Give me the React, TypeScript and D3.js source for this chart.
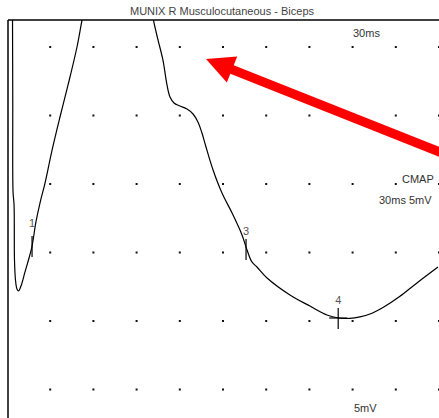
import React from 'react';
import * as d3 from 'd3';

// trace samples: time (ms) and amplitude (mV)
const traceMs = [0.38, 0.40, 0.42, 0.49, 0.52, 0.59, 0.69, 0.80, 0.97, 1.25, 1.53, 1.74, 2.01, 2.29, 2.64, 3.13, 3.68, 4.24, 4.86, 5.21, 5.49, 7.6,
  9.93, 10.17, 10.49, 10.83, 11.11, 11.32, 11.60, 12.01, 12.5, 12.92, 13.26, 13.54, 13.82, 14.31, 14.93, 15.63, 16.32, 16.67, 17.01, 17.36, 18.06,
  19.65, 21.04, 22.22, 23.02, 23.8, 24.51, 25.35, 26.11, 27.29, 28.47, 29.93];
const traceMv = [13.07, 6.13, -0.58, -1.53, -5.55, -7.01, -7.66, -7.81, -7.45, -6.42, -5.40, -4.53, -2.77, -1.39, 0.07, 2.48, 4.89, 7.23, 10.0, 11.97, 13.4, 19.5,
  13.43, 11.97, 10.5, 9.05, 7.23, 6.35, 5.91, 5.69, 5.47, 5.11, 4.53, 3.72, 2.70, 1.02, -0.66, -2.12, -3.72, -4.82, -5.69, -6.06, -6.86,
  -8.1, -8.91, -9.56, -9.78, -9.81, -9.7, -9.43, -9.02, -8.2, -7.22, -6.06];

// cursors on the trace
const markerIds = ['1', '3', '4'];
const markerMs = [1.74, 16.6, 23.0];
const markerMv = [-4.53, -4.75, -9.78];

const xTicksMs = d3.range(3, 31, 3);
const yTicksMv = [10, 5, 0, -5, -10, -15];

const title = 'MUNIX R Musculocutaneous - Biceps';

const W = 439;
const H = 418;
const left = 8;
const top = 20;

const x = d3.scaleLinear().domain([0, 30]).range([7, 439]);
const y = d3.scaleLinear().domain([10, -15]).range([47, 389.5]);

export default function App() {
  const pts: [number, number][] = traceMs.map((t, i) => [x(t), y(traceMv[i])]);
  const line = d3.line().curve(d3.curveCatmullRom.alpha(0.5))(pts) || '';

  // red arrow pointing at the trace
  const tip = [x(13.82), y(9.12)];
  const tail = [x(30.6), y(2.1)];
  const dx = tail[0] - tip[0];
  const dy = tail[1] - tip[1];
  const len = Math.hypot(dx, dy);
  const ux = dx / len, uy = dy / len;
  const px = -uy, py = ux;
  const headLen = 28, headW = 14, shaftW = 4.6;
  const bx = tip[0] + ux * headLen, by = tip[1] + uy * headLen;
  const arrow = [
    [tip[0], tip[1]],
    [bx + px * headW, by + py * headW],
    [bx + px * shaftW, by + py * shaftW],
    [tail[0] + px * shaftW, tail[1] + py * shaftW],
    [tail[0] - px * shaftW, tail[1] - py * shaftW],
    [bx - px * shaftW, by - py * shaftW],
    [bx - px * headW, by - py * headW],
  ];
  const arrowPath = 'M' + arrow.map((p) => p.join(',')).join('L') + 'Z';

  const font = '"Liberation Sans", Arial, sans-serif';

  return (
    <svg width={W} height={H} style={{ position: 'absolute', left: 0, top: 0, background: '#fff' }}>
      <defs>
        <clipPath id="plot">
          <rect x={left} y={top} width={W - left} height={H - top} />
        </clipPath>
      </defs>
      <text x={222} y={15} textAnchor="middle" fontFamily={font} fontSize={11} fill="#444">{title}</text>

      <g clipPath="url(#plot)">
        {xTicksMs.map((t) =>
          yTicksMv.map((v) => (
            <rect key={t + '_' + v} x={x(t) - 1} y={y(v) - 1} width={2} height={2} fill="#111" />
          ))
        )}
        <path d={line} fill="none" stroke="#000" strokeWidth={1.2} />

        {markerIds.map((id, i) => {
          const mx = x(markerMs[i]);
          const my = y(markerMv[i]);
          return (
            <g key={id}>
              <line x1={mx} x2={mx} y1={my - 10} y2={my + 11} stroke="#000" strokeWidth={1.2} />
              {id === '4' && <line x1={mx - 9} x2={mx + 9} y1={my} y2={my} stroke="#000" strokeWidth={1.2} />}
              <text x={mx} y={id === '1' ? my - 19 : my - 14} textAnchor="middle" fontFamily={font} fontSize={11} fill="#555">{id}</text>
            </g>
          );
        })}

        <text x={353} y={37} fontFamily={font} fontSize={11} fill="#333">30ms</text>
        <text x={354} y={412} fontFamily={font} fontSize={11} fill="#333">5mV</text>
        <text x={402} y={183} fontFamily={font} fontSize={11} fill="#333">CMAP</text>
        <text x={379} y={204} fontFamily={font} fontSize={11} fill="#333">30ms 5mV</text>

        <path d={arrowPath} fill="#ff0000" />
      </g>

      <line x1={left} x2={W} y1={top} y2={top} stroke="#000" strokeWidth={1.3} />
      <line x1={left} x2={left} y1={top} y2={H} stroke="#000" strokeWidth={1.5} />
    </svg>
  );
}
